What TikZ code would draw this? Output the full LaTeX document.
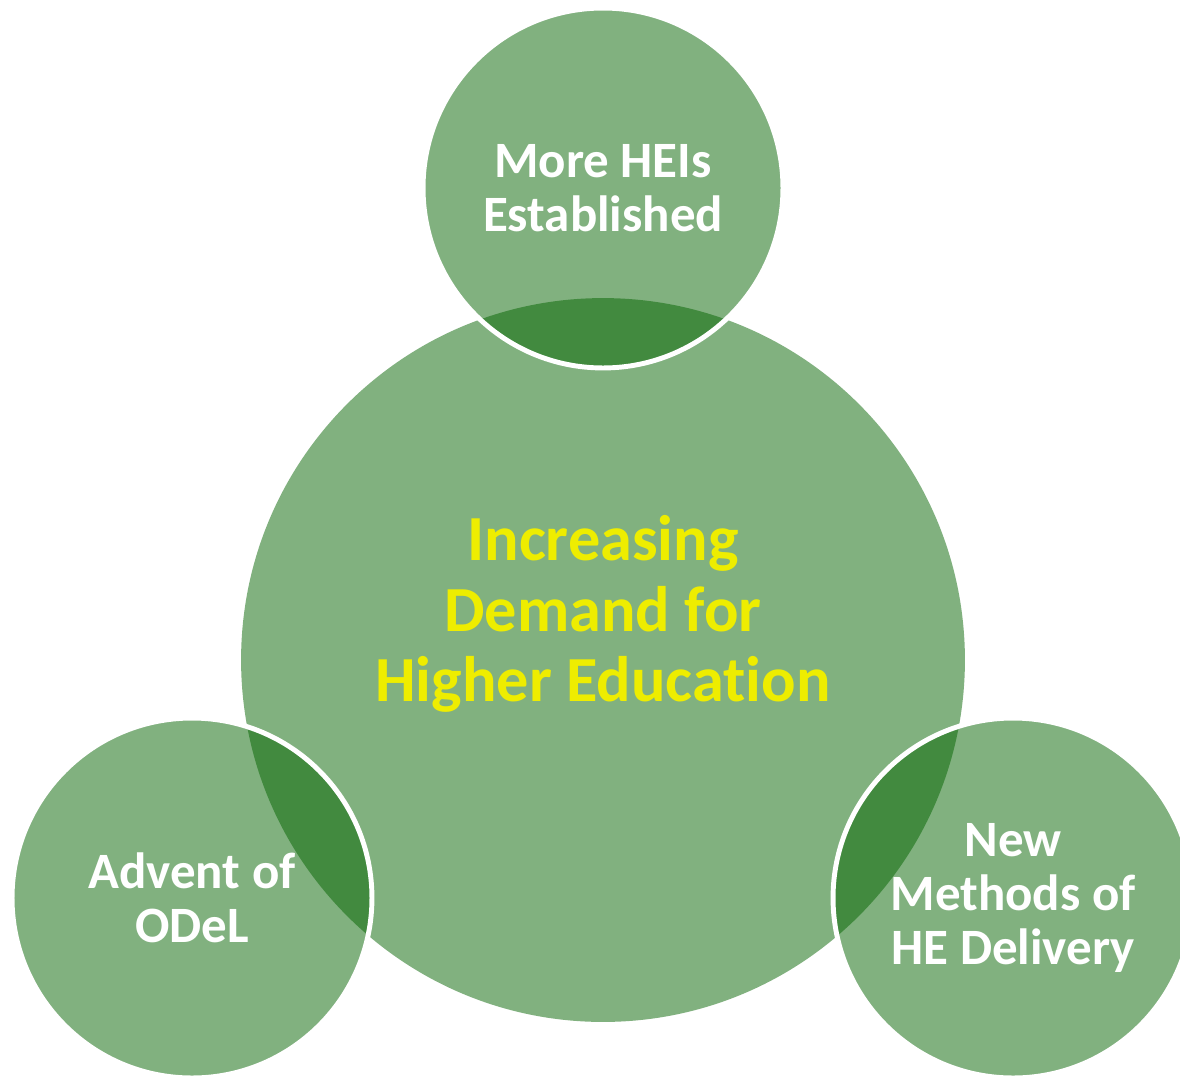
\documentclass[tikz,border=0pt]{standalone}
\usepackage{fontspec}
\setmainfont{Carlito}[Ligatures=NoCommon]
\definecolor{venngreen}{RGB}{4,99,0}
\definecolor{textyellow}{RGB}{238,237,0}

\begin{document}
\begin{tikzpicture}[x=0.02cm,y=-0.02cm,
        every node/.style={circle,inner sep=0pt,align=center},
        ring/.style={fill=venngreen,fill opacity=0.5,text opacity=1,minimum size=#1},
        outer/.style={ring=7.2cm,draw=white,draw opacity=1,line width=2.8pt,text=white,
            font=\bfseries\fontsize{29}{31}\selectfont}]
                \useasboundingbox (0,0) rectangle (1180,1076);
                \clip (0,0) rectangle (1180,1076);

                \node[ring=14.48cm] (demand) at (603,660) {};
                \node[text=textyellow,font=\bfseries\fontsize{36.6}{40}\selectfont] (demand text) at (603,614)
                    {Increasing\\Demand for\\Higher Education};

                \foreach \nm/\cx/\cy/\txt in {hei/603/188/{More HEIs\\Established},
                        odel/192/898/{Advent of\\ODeL},
                        delivery/1013/898/{New\\Methods of\\HE Delivery}}{
                    \node[outer] (\nm) at (\cx,\cy) {\txt};
                }
            \end{tikzpicture}
\end{document}
